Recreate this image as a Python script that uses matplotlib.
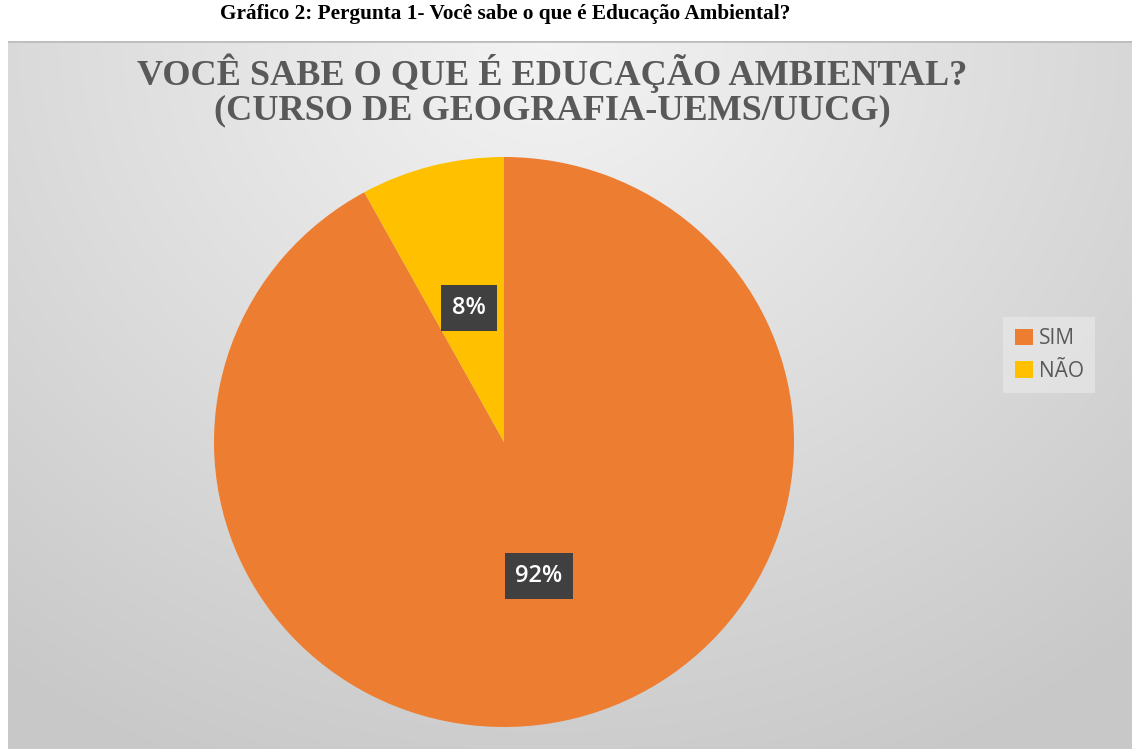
import numpy as np
import matplotlib
matplotlib.use("Agg")
import matplotlib.pyplot as plt
from matplotlib.patches import Patch

categories = ["SIM", "NÃO"]
values = [92, 8]
colors = ["#ED7D31", "#FFC000"]
caption = "Gráfico 2: Pergunta 1- Você sabe o que é Educação Ambiental?"
chart_title = "VOCÊ SABE O QUE É EDUCAÇÃO AMBIENTAL?\n(CURSO DE GEOGRAFIA-UEMS/UUCG)"

W, H = 1132, 749
fig = plt.figure(figsize=(W / 100, H / 100), dpi=100)
fig.patch.set_facecolor("white")

# background panel with radial gradient
px0, py_top = 8, 41
bg = fig.add_axes([px0 / W, 0, (W - px0) / W, (H - py_top) / H])
bg.set_axis_off()
ny, nx = 300, 450
yy, xx = np.mgrid[0:ny, 0:nx]
gx = (xx / (nx - 1)) * (W - px0)
gy = (yy / (ny - 1)) * (H - py_top)
cx, cy = (W - px0) * 0.48, 0
d = np.sqrt(((gx - cx) / 900) ** 2 + ((gy - cy) / 800) ** 2)
shade = 0.955 - 0.17 * np.clip(d, 0, 1)
img = np.dstack([shade, shade, shade])
bg.imshow(img, aspect="auto", extent=[0, 1, 0, 1], origin="upper")
bg.set_xlim(0, 1)
bg.set_ylim(0, 1)
bg.axhline(1, color="#bdbdbd", lw=2.0)

# pie axes
cxp, cyp, rx, ry = 504, 442, 290, 285
ax = fig.add_axes([(cxp - rx) / W, (H - cyp - ry) / H, 2 * rx / W, 2 * ry / H])
wedges, texts, autotexts = ax.pie(
    values, colors=colors, startangle=90, counterclock=False,
    autopct=lambda p: f"{p:.0f}%", pctdistance=0.485,
    wedgeprops=dict(linewidth=0),
    textprops=dict(color="white", fontsize=17, family="Open Sans", fontweight="semibold"),
)
for t in autotexts:
    t.set_bbox(dict(boxstyle="square,pad=0.45", facecolor="#404040", edgecolor="none"))
ax.set_aspect("auto")
ax.set_xlim(-1, 1)
ax.set_ylim(-1, 1)
ax.set_axis_off()

# titles
fig.text(505 / W, 1 - 14 / H, caption, ha="center", va="center",
         fontsize=15.3, fontweight="bold", family="Liberation Serif", color="black")
fig.text(552 / W, 1 - 90 / H, chart_title, ha="center", va="center",
         fontsize=26.1, fontweight="bold", family="Liberation Serif", color="#595959",
         linespacing=1.05)

# legend
handles = [Patch(facecolor=c, edgecolor="none") for c in colors]
leg = fig.legend(handles, categories, loc="center left",
                 bbox_to_anchor=(993 / W, 1 - 355 / H),
                 frameon=True, facecolor="#ebebeb", edgecolor="none", framealpha=0.6,
                 fancybox=False, handlelength=0.85, handleheight=0.85, handletextpad=0.3,
                 labelspacing=0.55, borderpad=0.55,
                 prop=dict(family="Open Sans", size=15))
for t in leg.get_texts():
    t.set_color("#595959")

fig.savefig("out.png", dpi=100)
